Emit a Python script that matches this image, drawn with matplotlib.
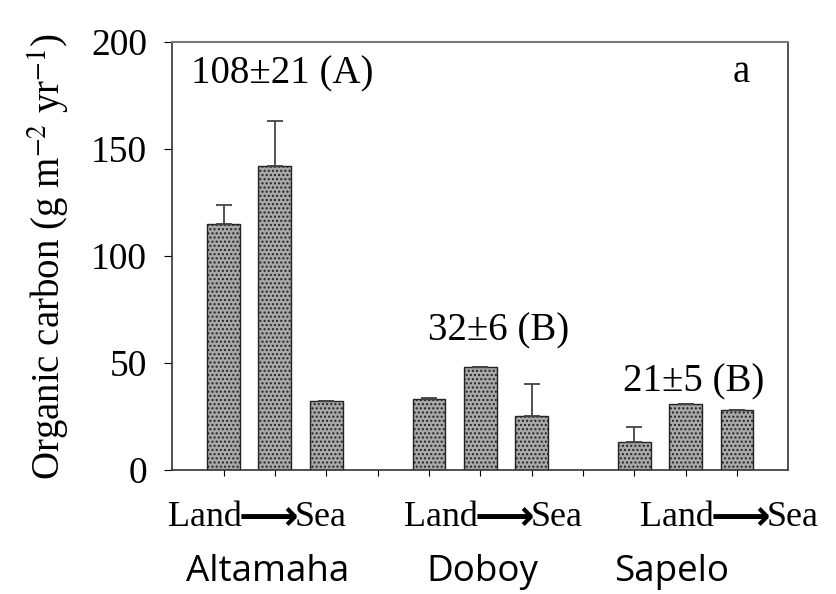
import matplotlib.pyplot as plt
import numpy as np

# bar positions: three sites, three stations each (land -> sea), gap between sites
positions = [1, 2, 3, 5, 6, 7, 9, 10, 11]
values = [115, 142, 32, 33, 48, 25, 13, 31, 28]
err_up = [9, 21, 0, 0.6, 0, 15, 7, 0, 0]

sites = ['Altamaha', 'Doboy', 'Sapelo']
site_x = [1.85, 6.03, 9.72]
arrow_x = [1.87, 6.47, 11.06]
site_notes = ['108±21 (A)', '32±6 (B)', '21±5 (B)']
note_x = [2.15, 6.36, 10.15]
note_y = [185, 65, 41]

serif = 'Liberation Serif'
plt.rcParams['mathtext.fontset'] = 'stix'
plt.rcParams['hatch.color'] = '#555555'

fig = plt.figure(figsize=(8.36, 5.94), dpi=100)
ax = fig.add_axes([0.206, 0.209, 0.737, 0.72])

ax.bar(positions, values, width=0.64, color='#a8a8a8', edgecolor='#222222',
       linewidth=1.0, hatch='....', zorder=2)
ax.errorbar(positions, values, yerr=[np.zeros(len(err_up)), err_up], fmt='none',
            ecolor='#444444', elinewidth=1.3, capsize=6, capthick=1.3, zorder=3)

ax.set_xlim(0, 12)
ax.set_ylim(0, 200)
ax.set_yticks([0, 50, 100, 150, 200])
ax.set_xticks(np.arange(1, 12))
ax.set_xticklabels([])
ax.tick_params(axis='y', direction='out', length=6, labelsize=27, pad=12)
ax.tick_params(axis='x', direction='out', length=4)
for lab in ax.get_yticklabels():
    lab.set_fontfamily(serif)

for s in ['left', 'bottom', 'right']:
    ax.spines[s].set_color('#333333')
    ax.spines[s].set_linewidth(1.2)
ax.spines['top'].set_color('#777777')
ax.spines['top'].set_linewidth(1.5)

ax.set_ylabel('Organic carbon (g m$^{\\mathrm{-2}}$ yr$^{\\mathrm{-1}}$)', fontsize=28,
              fontfamily=serif, labelpad=14)

for x, y, t in zip(note_x, note_y, site_notes):
    ax.text(x, y, t, ha='center', va='center', fontsize=28, fontfamily=serif)
ax.text(11.08, 186, 'a', ha='center', va='center', fontsize=28, fontfamily=serif)

for cx, sx, name in zip(arrow_x, site_x, sites):
    ax.annotate('Land', xy=(cx, -22.5), xytext=(-19, 0), textcoords='offset points',
                ha='right', va='center', fontsize=26, fontfamily=serif,
                annotation_clip=False)
    ax.text(cx, -22.5, '⟶', ha='center', va='center', fontsize=30,
            fontweight='bold', fontfamily='DejaVu Sans', clip_on=False)
    ax.annotate('Sea', xy=(cx, -22.5), xytext=(19, 0), textcoords='offset points',
                ha='left', va='center', fontsize=26, fontfamily=serif,
                annotation_clip=False)
    ax.text(sx, -48, name, ha='center', va='center', fontsize=26.5,
            fontfamily='Open Sans', clip_on=False)

fig.savefig('out.png', dpi=100)
